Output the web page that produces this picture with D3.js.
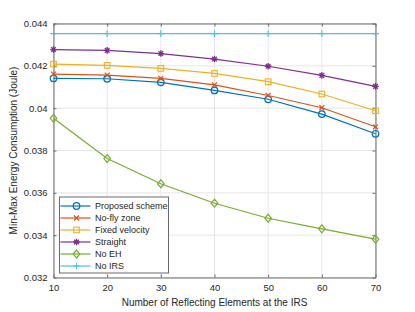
<!DOCTYPE html>
<html>
<head>
<meta charset="utf-8">
<script src="https://cdn.jsdelivr.net/npm/d3@7"></script>
<style>
  body { margin: 0; background: #fff; }
  text { font-family: "Liberation Sans", Arial, sans-serif; fill: #262626; }
</style>
</head>
<body>
<script>
/* Data */
var elements = [10, 20, 30, 40, 50, 60, 70];
var proposed = [0.04141, 0.04139, 0.04122, 0.04084, 0.04042, 0.03972, 0.03879];
var noFly    = [0.04161, 0.04156, 0.04141, 0.04110, 0.04060, 0.04002, 0.03912];
var fixedVel = [0.04208, 0.04202, 0.04188, 0.04164, 0.04125, 0.04067, 0.03988];
var straight = [0.04277, 0.04273, 0.04258, 0.04232, 0.04198, 0.04155, 0.04103];
var noEH     = [0.03952, 0.03762, 0.03643, 0.03551, 0.03480, 0.03430, 0.03381];
var noIRS    = [0.04352, 0.04352, 0.04352, 0.04352, 0.04352, 0.04352, 0.04352];
var xTicks = [10, 20, 30, 40, 50, 60, 70];
var yTicks = [0.032, 0.034, 0.036, 0.038, 0.040, 0.042, 0.044];
var yTickLabels = ["0.032", "0.034", "0.036", "0.038", "0.04", "0.042", "0.044"];

var series = [
  {name: "Proposed scheme", values: proposed, color: "#0072BD", marker: "circle"},
  {name: "No-fly zone",     values: noFly,    color: "#D95319", marker: "cross"},
  {name: "Fixed velocity",  values: fixedVel, color: "#EDB120", marker: "square"},
  {name: "Straight",        values: straight, color: "#7E2F8E", marker: "star"},
  {name: "No EH",           values: noEH,     color: "#77AC30", marker: "diamond"},
  {name: "No IRS",          values: noIRS,    color: "#4DBEEE", marker: "plus"}
];

var margin = {top: 23.5, right: 39.5, bottom: 34.5, left: 53.5},
    W = 415, H = 312,
    width = W - margin.left - margin.right,
    height = H - margin.top - margin.bottom;

var svg = d3.select("body").append("svg")
    .attr("width", W)
    .attr("height", H);

var g = svg.append("g")
    .attr("transform", "translate(" + margin.left + "," + margin.top + ")");

var x = d3.scaleLinear().domain([10, 70]).range([0, width]);
var y = d3.scaleLinear().domain([0.032, 0.044]).range([height, 0]);

/* grid */
g.append("g").selectAll("line.gx")
    .data(xTicks).enter().append("line")
    .attr("x1", function(d) { return x(d); }).attr("x2", function(d) { return x(d); })
    .attr("y1", 0).attr("y2", height)
    .attr("stroke", "#e6e6e6").attr("stroke-width", 1);
g.append("g").selectAll("line.gy")
    .data(yTicks).enter().append("line")
    .attr("y1", function(d) { return y(d); }).attr("y2", function(d) { return y(d); })
    .attr("x1", 0).attr("x2", width)
    .attr("stroke", "#e6e6e6").attr("stroke-width", 1);

/* axes, ticks pointing inward like MATLAB */
var xAxis = d3.axisBottom(x).tickValues(xTicks).tickSizeInner(-3).tickSizeOuter(0).tickPadding(7);
var yAxis = d3.axisLeft(y).tickValues(yTicks).tickSizeInner(-3).tickSizeOuter(0).tickPadding(6)
    .tickFormat(function(d, i) { return yTickLabels[i]; });

var gx = g.append("g").attr("transform", "translate(0," + height + ")").call(xAxis);
var gy = g.append("g").call(yAxis);
g.append("g").call(d3.axisTop(x).tickValues(xTicks).tickSizeInner(-3).tickSizeOuter(0).tickFormat(""));
g.append("g").attr("transform", "translate(" + width + ",0)")
    .call(d3.axisRight(y).tickValues(yTicks).tickSizeInner(-3).tickSizeOuter(0).tickFormat(""));

g.selectAll(".domain").attr("stroke", "#6a6a6a");
g.selectAll(".tick line").attr("stroke", "#6a6a6a");
g.selectAll(".tick text").style("font-size", "9.5px").style("fill", "#262626");

/* lines */
var line = d3.line()
    .x(function(d, i) { return x(elements[i]); })
    .y(function(d) { return y(d); });

function drawMarker(sel, type, color, r) {
  if (type === "circle") {
    sel.append("circle").attr("r", r).attr("fill", "none").attr("stroke", color).attr("stroke-width", 1.2);
  } else if (type === "square") {
    sel.append("rect").attr("x", -r * 0.85).attr("y", -r * 0.85).attr("width", r * 1.7).attr("height", r * 1.7)
      .attr("fill", "none").attr("stroke", color).attr("stroke-width", 1.1);
  } else if (type === "diamond") {
    sel.append("path").attr("d", "M0," + (-r * 1.2) + "L" + r + ",0L0," + (r * 1.2) + "L" + (-r) + ",0Z")
      .attr("fill", "none").attr("stroke", color).attr("stroke-width", 1.2);
  } else if (type === "cross") {
    var c = r * 0.75;
    sel.append("path").attr("d", "M" + (-c) + "," + (-c) + "L" + c + "," + c + "M" + (-c) + "," + c + "L" + c + "," + (-c))
      .attr("stroke", color).attr("stroke-width", 1.2);
  } else if (type === "plus") {
    sel.append("path").attr("d", "M" + (-r) + ",0L" + r + ",0M0," + (-r) + "L0," + r)
      .attr("stroke", color).attr("stroke-width", 1.1);
  } else if (type === "star") {
    var s = r;
    sel.append("path").attr("d",
        "M" + (-s) + ",0L" + s + ",0M0," + (-s) + "L0," + s +
        "M" + (-s * 0.7) + "," + (-s * 0.7) + "L" + (s * 0.7) + "," + (s * 0.7) +
        "M" + (-s * 0.7) + "," + (s * 0.7) + "L" + (s * 0.7) + "," + (-s * 0.7))
      .attr("stroke", color).attr("stroke-width", 1.3);
  }
}

var sg = g.selectAll(".series").data(series).enter().append("g").attr("class", "series");

sg.append("path")
    .attr("fill", "none")
    .attr("stroke", function(d) { return d.color; })
    .attr("stroke-width", 1.2)
    .attr("d", function(d) { return line(d.values); });

sg.each(function(s) {
  d3.select(this).selectAll(".pt")
    .data(s.values).enter().append("g")
    .attr("transform", function(d, i) { return "translate(" + x(elements[i]) + "," + y(d) + ")"; })
    .each(function() { drawMarker(d3.select(this), s.marker, s.color, 3.3); });
});

/* legend */
var lg = g.append("g").attr("transform", "translate(" + (59.5 - margin.left) + "," + (197 - margin.top) + ")");
lg.append("rect").attr("width", 109).attr("height", 76)
    .attr("fill", "#fff").attr("stroke", "#6a6a6a").attr("stroke-width", 1);
var row = lg.selectAll(".row").data(series).enter().append("g")
    .attr("transform", function(d, i) { return "translate(0," + (9 + i * 12) + ")"; });
row.append("line").attr("x1", 1).attr("x2", 31).attr("y1", 0).attr("y2", 0)
    .attr("stroke", function(d) { return d.color; }).attr("stroke-width", 1.2);
row.each(function(s) {
  var m = d3.select(this).append("g").attr("transform", "translate(17,0)");
  drawMarker(m, s.marker, s.color, 3.3);
});
row.append("text").attr("x", 35.5).attr("dy", "0.35em")
    .style("font-size", "9px")
    .text(function(d) { return d.name; });

/* axis titles */
g.append("text")
    .attr("x", width / 2).attr("y", height + 28)
    .attr("text-anchor", "middle")
    .style("font-size", "10px")
    .text("Number of Reflecting Elements at the IRS");

g.append("text")
    .attr("transform", "rotate(-90)")
    .attr("x", -height / 2).attr("y", -37)
    .attr("text-anchor", "middle")
    .style("font-size", "10px")
    .text("Min-Max Energy Consumption (Joule)");
</script>
</body>
</html>
